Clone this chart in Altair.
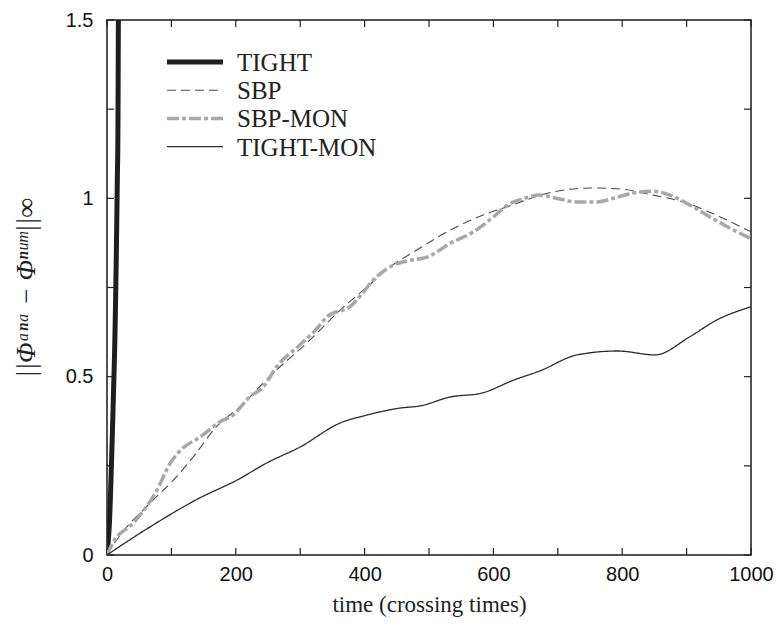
import altair as alt
import pandas as pd

series_names = ["TIGHT", "SBP", "SBP-MON", "TIGHT-MON"]

t_tight = [0, 2, 4, 7, 10, 12.5, 14.5, 16, 17, 17.7, 18.5]
v_tight = [0, 0.04, 0.1, 0.26, 0.45, 0.63, 0.85, 1.05, 1.2, 1.5, 1.65]

t_sbp = [0, 15, 67, 103, 134, 170, 206, 258, 310, 367, 403, 439, 481, 533,
         584, 621, 693, 755, 797, 848, 900, 952, 1000]
v_sbp = [0, 0.042, 0.146, 0.21, 0.275, 0.36, 0.415, 0.51, 0.594, 0.695, 0.75,
         0.807, 0.855, 0.911, 0.953, 0.976, 1.018, 1.029, 1.026, 1.009, 0.987,
         0.948, 0.906]

t_sbpmon = [0, 9, 41, 77, 98, 118, 144, 175, 196, 222, 243, 263, 300, 326,
            341, 380, 395, 413, 444, 471, 497, 533, 569, 600, 621, 652, 672,
            703, 730, 761, 786, 817, 848, 874, 905, 936, 967, 1000]
v_sbpmon = [0, 0.034, 0.09, 0.18, 0.257, 0.30, 0.33, 0.373, 0.393, 0.444,
            0.472, 0.527, 0.59, 0.635, 0.667, 0.70, 0.73, 0.77, 0.812, 0.826,
            0.835, 0.874, 0.906, 0.948, 0.98, 1.002, 1.009, 0.998, 0.99, 0.99,
            1.0, 1.015, 1.02, 1.009, 0.981, 0.948, 0.917, 0.887]

t_tm = [0, 67, 144, 202, 248, 300, 362, 403, 455, 486, 533, 582, 631, 672,
        730, 793, 851, 905, 947, 1000]
v_tm = [0, 0.079, 0.16, 0.21, 0.258, 0.303, 0.37, 0.392, 0.412, 0.418, 0.443,
        0.454, 0.49, 0.516, 0.561, 0.572, 0.561, 0.612, 0.659, 0.696]

x_label_values = [0, 200, 400, 600, 800, 1000]
y_label_values = [0, 0.5, 1, 1.5]
x_minor = [0, 100, 200, 300, 400, 500, 600, 700, 800, 900, 1000]
y_minor = [0, 0.25, 0.5, 0.75, 1.0, 1.25, 1.5]

rows = []
for name, ts, vs in [("TIGHT", t_tight, v_tight), ("SBP", t_sbp, v_sbp),
                     ("SBP-MON", t_sbpmon, v_sbpmon), ("TIGHT-MON", t_tm, v_tm)]:
    for t, v in zip(ts, vs):
        rows.append({"time": t, "err": v, "series": name})
df = pd.DataFrame(rows)

W, H = 644, 535
TL = 7

xscale = alt.Scale(domain=[0, 1000], nice=False, zero=False)
yscale = alt.Scale(domain=[0, 1.5], nice=False, zero=False)

xaxis = alt.Axis(values=x_label_values, format="d", ticks=False, domain=False,
                 grid=False, labelFont="Liberation Sans", labelFontSize=20,
                 labelColor="#111", labelPadding=9, labelFlush=False,
                 title="time (crossing times)", titleFont="Liberation Serif",
                 titleFontSize=23, titleFontWeight="normal", titleColor="#222",
                 titlePadding=9)
yaxis = alt.Axis(values=y_label_values, format="~g", ticks=False, domain=False,
                 grid=False, labelFont="Liberation Sans", labelFontSize=20,
                 labelColor="#111", labelPadding=14, labelFlush=False,
                 title="||Φᵃⁿᵃ − Φⁿᵘᵐ||∞", titleFont="Liberation Serif",
                 titleFontSize=27, titleFontWeight="normal", titleFontStyle="italic",
                 titleColor="#222", titlePadding=25)

X = lambda f: alt.X(f, type="quantitative", scale=xscale, axis=xaxis)
Y = lambda f: alt.Y(f, type="quantitative", scale=yscale, axis=yaxis)

color_enc = alt.Color("series:N", scale=alt.Scale(domain=series_names,
                      range=["#1e1e1e", "#4a4a4a", "#a8a8a8", "#2a2a2a"]), legend=None)
dash_enc = alt.StrokeDash("series:N", scale=alt.Scale(type="ordinal", domain=series_names,
                          range=[[1, 0], [9, 5], [12, 3, 4, 3], [1, 0]]), legend=None)
width_enc = alt.StrokeWidth("series:N", scale=alt.Scale(type="ordinal", domain=series_names,
                            range=[5, 1.1, 3.5, 1.3]), legend=None)

lines = alt.Chart(df).mark_line(clip=True, interpolate="monotone").encode(
    x=X("time"),
    y=Y("err"),
    color=color_enc,
    strokeDash=dash_enc,
    strokeWidth=width_enc,
    order=alt.Order("ord:Q"),
).transform_calculate(ord="indexof(['SBP-MON','SBP','TIGHT-MON','TIGHT'], datum.series)")

# manual legend (top-left, inside the plot)
legend_layers = []
for i, name in enumerate(series_names):
    ld = pd.DataFrame({"series": [name]})
    ypos = 42 + 28.2 * i
    legend_layers.append(
        alt.Chart(ld).mark_rule().encode(
            x=alt.value(60), x2=alt.value(116), y=alt.value(ypos),
            color=color_enc, strokeDash=dash_enc, strokeWidth=width_enc))
    legend_layers.append(
        alt.Chart(ld).mark_text(align="left", baseline="middle", font="Liberation Serif",
                                fontSize=25, color="#222").encode(
            x=alt.value(130), y=alt.value(ypos + 1), text="series:N"))

xt = pd.DataFrame({"tx": x_minor})
yt = pd.DataFrame({"ty": y_minor})

xt_bottom = alt.Chart(xt).mark_rule(color="#222", strokeWidth=1.2).encode(
    x=X("tx"), y=alt.value(H), y2=alt.value(H - TL))
xt_top = alt.Chart(xt).mark_rule(color="#222", strokeWidth=1.2).encode(
    x=X("tx"), y=alt.value(0), y2=alt.value(TL))
yt_left = alt.Chart(yt).mark_rule(color="#222", strokeWidth=1.2).encode(
    y=Y("ty"), x=alt.value(0), x2=alt.value(TL))
yt_right = alt.Chart(yt).mark_rule(color="#222", strokeWidth=1.2).encode(
    y=Y("ty"), x=alt.value(W), x2=alt.value(W - TL))

chart = alt.layer(xt_bottom, xt_top, yt_left, yt_right, lines, *legend_layers).properties(
    width=W, height=H,
    autosize=alt.AutoSizeParams(type="none"),
    padding={"left": 107, "top": 20, "right": 26, "bottom": 72},
    background="white",
).configure_view(stroke="#1a1a1a", strokeWidth=1.5)

chart.save("out.html", embed_options={"renderer": "svg", "actions": False})
